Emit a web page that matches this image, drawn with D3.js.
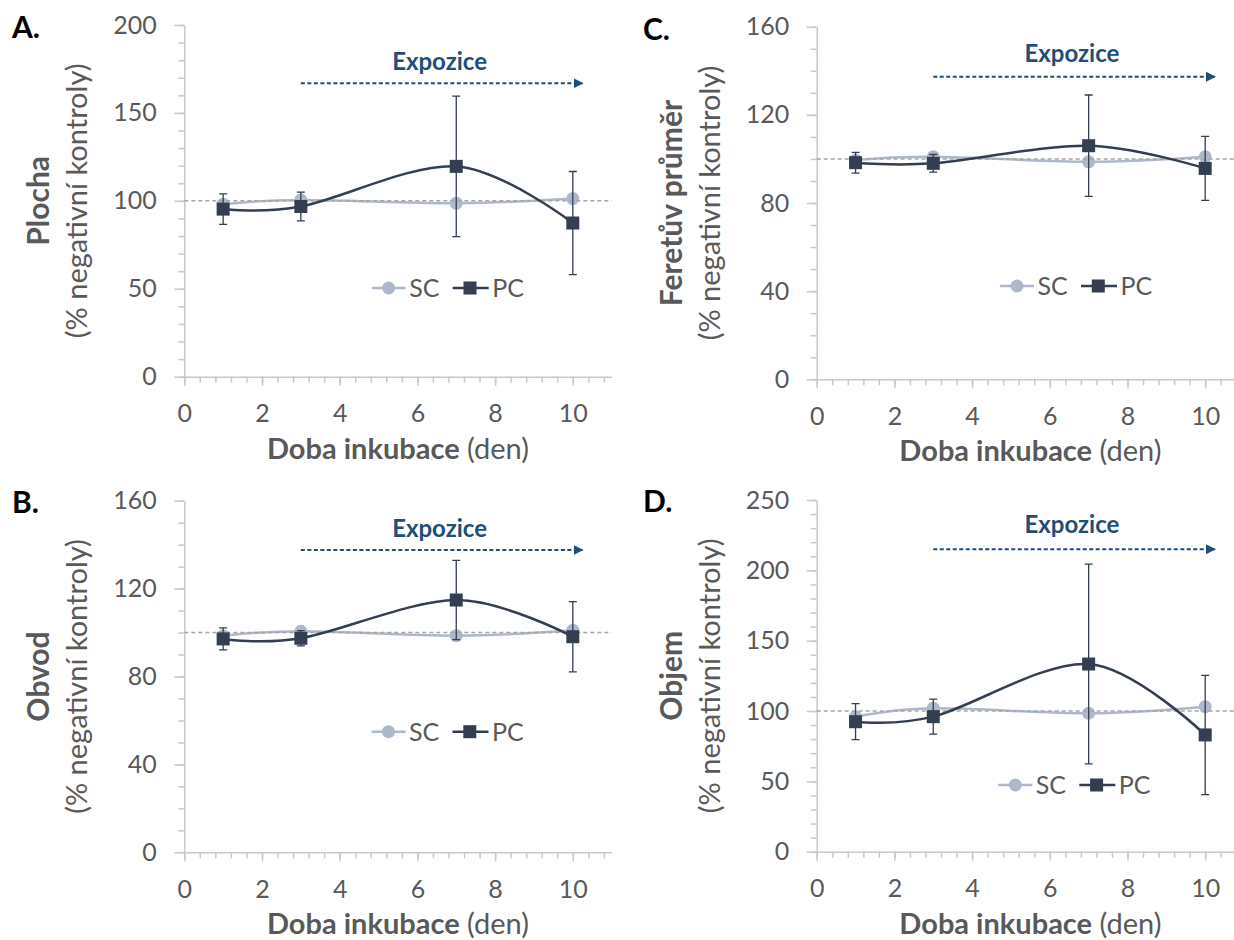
<!DOCTYPE html>
<html>
<head>
<meta charset="utf-8">
<script src="https://cdn.jsdelivr.net/npm/d3@7"></script>
<style>
  body { margin: 0; background: #fff; }
  text { font-family: Lato, "Open Sans", sans-serif; }
</style>
</head>
<body>
<svg id="chart" width="1234" height="940"></svg>
<script>
// days of incubation
var days = [1, 3, 7, 10];
var xTicks = [0, 2, 4, 6, 8, 10];

// A. Plocha
var plochaSC = [98.1, 100.5, 98.7, 101.3];
var plochaSCerr = [2, 2, 2, 2];
var plochaPC = [95.3, 96.8, 119.6, 87.4];
var plochaPCerr = [8.7, 8.2, 40, 29.3];
var plochaTicks = [0, 50, 100, 150, 200];

// B. Obvod
var obvodSC = [98.5, 100.6, 98.6, 101];
var obvodSCerr = [2, 2, 2, 2];
var obvodPC = [97.1, 97.4, 114.8, 98.1];
var obvodPCerr = [5, 3.5, 18, 16];
var obvodTicks = [0, 40, 80, 120, 160];

// C. Feretuv prumer
var feretSC = [99.5, 101, 98.7, 101];
var feretSCerr = [2, 2, 2, 2];
var feretPC = [98.3, 98, 106, 95.7];
var feretPCerr = [4.7, 4, 23, 14.5];
var feretTicks = [0, 40, 80, 120, 160];

// D. Objem
var objemSC = [96, 101.9, 98.4, 103.1];
var objemSCerr = [3, 3, 3, 3];
var objemPC = [92.4, 96, 133.4, 83];
var objemPCerr = [12.8, 12.4, 71, 42.4];
var objemTicks = [0, 50, 100, 150, 200, 250];

var colSC = '#adb9ca', colPC = '#333f50', colExp = '#1f4e79',
    colAxis = '#c9c9c9', colText = '#595959';

var panels = [
  { letter: 'A.', title: 'Plocha', sc: plochaSC, scErr: plochaSCerr, pc: plochaPC, pcErr: plochaPCerr,
    ticks: plochaTicks, minor: 10, left: 184.3, top: 25, bottom: 376.7,
    lx: 12, ly: 38, expY: 70, arrowY: 83.3, legX: 371.7, legY: 288 },
  { letter: 'B.', title: 'Obvod', sc: obvodSC, scErr: obvodSCerr, pc: obvodPC, pcErr: obvodPCerr,
    ticks: obvodTicks, minor: 10, left: 184.3, top: 500.7, bottom: 852.3,
    lx: 12, ly: 513, expY: 536.7, arrowY: 550, legX: 371.5, legY: 731.7 },
  { letter: 'C.', title: 'Feretův průměr', sc: feretSC, scErr: feretSCerr, pc: feretPC, pcErr: feretPCerr,
    ticks: feretTicks, minor: 10, left: 816.7, top: 26.7, bottom: 379.3,
    lx: 643, ly: 40, expY: 61.7, arrowY: 76.7, legX: 1000, legY: 286 },
  { letter: 'D.', title: 'Objem', sc: objemSC, scErr: objemSCerr, pc: objemPC, pcErr: objemPCerr,
    ticks: objemTicks, minor: 10, left: 816.7, top: 500, bottom: 851.7,
    lx: 643, ly: 512, expY: 533.3, arrowY: 549.3, legX: 998.3, legY: 785 }
];

var svg = d3.select('#chart');

svg.append('defs').append('marker')
  .attr('id', 'arrowhead')
  .attr('viewBox', '0 0 10 10')
  .attr('refX', 9).attr('refY', 5)
  .attr('markerWidth', 5).attr('markerHeight', 5)
  .attr('markerUnits', 'strokeWidth')
  .attr('orient', 'auto')
  .append('path').attr('d', 'M0,0 L10,5 L0,10 Z').attr('fill', colExp);

function styleAxis(a) {
  a.select('.domain').attr('stroke', colAxis).attr('stroke-width', 1.5);
  a.selectAll('line').attr('stroke', colAxis).attr('stroke-width', 1.5);
  a.selectAll('text').attr('font-size', 25).attr('fill', colText).attr('font-family', 'Lato, sans-serif');
}

function errPath(x, y) {
  return function(d) {
    var xx = x(d[0]), y1 = y(d[1] + d[2]), y2 = y(d[1] - d[2]);
    return 'M' + xx + ',' + y1 + 'V' + y2 +
      'M' + (xx - 4) + ',' + y1 + 'H' + (xx + 4) +
      'M' + (xx - 4) + ',' + y2 + 'H' + (xx + 4);
  };
}

panels.forEach(function(p) {
  var unit = 38.85;
  var x = d3.scaleLinear().domain([0, 11]).range([p.left, p.left + 11 * unit]);
  var yMax = p.ticks[p.ticks.length - 1];
  var y = d3.scaleLinear().domain([0, yMax]).range([p.bottom, p.top]);
  var g = svg.append('g');

  // panel letter
  g.append('text').attr('x', p.lx).attr('y', p.ly)
    .attr('font-size', 30).attr('font-weight', 700).attr('fill', '#000')
    .text(p.letter);

  // minor ticks
  var yMinor = d3.range(0, yMax + 0.001, p.minor);
  g.append('g').attr('transform', 'translate(' + p.left + ',0)')
    .call(d3.axisLeft(y).tickValues(yMinor).tickSize(6).tickFormat(''))
    .call(function(a) { a.select('.domain').remove(); a.selectAll('line').attr('stroke', colAxis).attr('stroke-width', 1.5); });
  var xMinor = d3.range(0, 10.81, 0.4);
  g.append('g').attr('transform', 'translate(0,' + p.bottom + ')')
    .call(d3.axisBottom(x).tickValues(xMinor).tickSize(6).tickFormat(''))
    .call(function(a) { a.select('.domain').remove(); a.selectAll('line').attr('stroke', colAxis).attr('stroke-width', 1.5); });

  // major axes
  g.append('g').attr('transform', 'translate(' + p.left + ',0)')
    .call(d3.axisLeft(y).tickValues(p.ticks).tickSize(10).tickSizeOuter(0).tickPadding(17.5))
    .call(styleAxis);
  g.append('g').attr('transform', 'translate(0,' + p.bottom + ')')
    .call(d3.axisBottom(x).tickValues(xTicks).tickSize(9).tickSizeOuter(0).tickPadding(19))
    .call(styleAxis);

  // axis titles
  var xt = g.append('text').attr('x', x(5.5)).attr('y', p.bottom + 82)
    .attr('text-anchor', 'middle').attr('font-size', 29).attr('fill', colText);
  xt.append('tspan').attr('font-weight', 700).text('Doba inkubace');
  xt.append('tspan').text(' (den)');

  var cy = (p.top + p.bottom) / 2;
  g.append('text').attr('transform', 'translate(' + (p.left - 135) + ',' + cy + ') rotate(-90)')
    .attr('text-anchor', 'middle').attr('font-size', 30).attr('font-weight', 700).attr('fill', colText)
    .text(p.title);
  g.append('text').attr('transform', 'translate(' + (p.left - 97) + ',' + cy + ') rotate(-90)')
    .attr('text-anchor', 'middle').attr('font-size', 29).attr('fill', colText)
    .text('(% negativní kontroly)');

  // exposure arrow
  g.append('text').attr('x', x(6.57)).attr('y', p.expY)
    .attr('text-anchor', 'middle').attr('font-size', 24).attr('font-weight', 700).attr('fill', colExp)
    .text('Expozice');
  g.append('line').attr('x1', x(3)).attr('x2', x(10.25)).attr('y1', p.arrowY).attr('y2', p.arrowY)
    .attr('stroke', colExp).attr('stroke-width', 2).attr('stroke-dasharray', '4,2.5')
    .attr('marker-end', 'url(#arrowhead)');

  var line = d3.line().curve(d3.curveCardinal.tension(0))
    .x(function(d) { return x(d[0]); }).y(function(d) { return y(d[1]); });
  var scPts = days.map(function(d, i) { return [d, p.sc[i], p.scErr[i]]; });
  var pcPts = days.map(function(d, i) { return [d, p.pc[i], p.pcErr[i]]; });

  // SC series
  g.append('g').selectAll('path').data(scPts).join('path')
    .attr('d', errPath(x, y))
    .attr('stroke', colSC).attr('stroke-width', 1.3).attr('fill', 'none');
  g.append('path').datum(scPts).attr('d', line)
    .attr('fill', 'none').attr('stroke', colSC).attr('stroke-width', 2.5);
  g.append('g').selectAll('circle').data(scPts).join('circle')
    .attr('cx', function(d) { return x(d[0]); }).attr('cy', function(d) { return y(d[1]); })
    .attr('r', 6.5).attr('fill', colSC);

  // reference line at 100 %
  g.append('line').attr('x1', x(0)).attr('x2', x(11)).attr('y1', y(100)).attr('y2', y(100))
    .attr('stroke', '#a6a6a6').attr('stroke-width', 1.5).attr('stroke-dasharray', '4,3');

  // PC series
  g.append('g').selectAll('path').data(pcPts).join('path')
    .attr('d', errPath(x, y))
    .attr('stroke', colPC).attr('stroke-width', 1.3).attr('fill', 'none');
  g.append('path').datum(pcPts).attr('d', line)
    .attr('fill', 'none').attr('stroke', colPC).attr('stroke-width', 2.5);
  g.append('g').selectAll('rect').data(pcPts).join('rect')
    .attr('x', function(d) { return x(d[0]) - 6.5; }).attr('y', function(d) { return y(d[1]) - 6.5; })
    .attr('width', 13).attr('height', 13).attr('fill', colPC);

  // legend
  var lg = g.append('g').attr('transform', 'translate(' + p.legX + ',' + p.legY + ')');
  lg.append('line').attr('x1', 0).attr('x2', 34).attr('stroke', colSC).attr('stroke-width', 2.5);
  lg.append('circle').attr('cx', 17).attr('r', 6.5).attr('fill', colSC);
  lg.append('text').attr('x', 37.5).attr('dy', '0.36em').attr('font-size', 25).attr('fill', colText).text('SC');
  lg.append('line').attr('x1', 81).attr('x2', 117).attr('stroke', colPC).attr('stroke-width', 2.5);
  lg.append('rect').attr('x', 98.3 - 6.5).attr('y', -6.5).attr('width', 13).attr('height', 13).attr('fill', colPC);
  lg.append('text').attr('x', 120.5).attr('dy', '0.36em').attr('font-size', 25).attr('fill', colText).text('PC');
});
</script>
</body>
</html>
